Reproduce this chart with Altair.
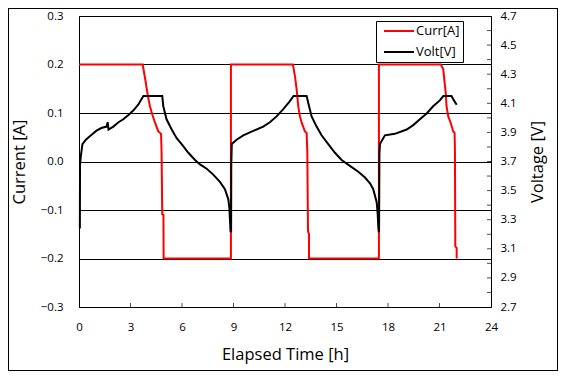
import altair as alt
import pandas as pd

# ---- data ----
curr_t = [0, 3.71, 3.86, 4.0, 4.13, 4.27, 4.43, 4.62, 4.78, 4.81, 4.85, 4.92, 4.93, 8.85, 8.85,
          12.46, 12.58, 12.68, 12.77, 12.87, 12.97, 13.16, 13.26, 13.30, 13.34, 13.40, 13.40, 17.47, 17.47,
          21.08, 21.22, 21.28, 21.36, 21.41, 21.51, 21.65, 21.80, 21.88, 21.90, 21.92, 22.0, 22.0]
curr_a = [0.2, 0.2, 0.169, 0.138, 0.114, 0.097, 0.080, 0.062, 0.057, 0.019, -0.109, -0.11, -0.2, -0.2, 0.2,
          0.2, 0.176, 0.148, 0.114, 0.093, 0.080, 0.062, 0.059, 0.019, -0.144, -0.15, -0.2, -0.2, 0.2,
          0.2, 0.190, 0.169, 0.142, 0.114, 0.093, 0.080, 0.062, 0.059, 0.019, -0.175, -0.178, -0.2]

volt_t = [0.05, 0.06, 0.1, 0.2, 0.4, 0.7, 1.0, 1.3, 1.6, 1.67, 1.72, 2.0, 2.3, 2.58, 2.88, 3.16, 3.45, 3.75,
          4.85, 4.91, 5.10, 5.40, 5.69, 5.98, 6.37, 6.76, 7.05, 7.44, 7.82, 8.21, 8.50, 8.70, 8.76, 8.80, 8.83,
          8.86, 8.87, 8.9, 9.18, 9.57, 10.15, 10.73, 11.12, 11.51, 11.9, 12.25, 12.5,
          13.26, 13.36, 13.55, 13.84, 14.13, 14.52, 14.91, 15.3, 15.78, 16.27, 16.66, 16.95, 17.14, 17.34, 17.40,
          17.43, 17.46, 17.48, 17.5, 17.53, 17.82, 18.4, 19.09, 19.47, 19.86, 20.25, 20.63, 21.02, 21.22,
          21.7, 21.84, 22.0]
volt_v = [3.24, 3.68, 3.73, 3.82, 3.85, 3.88, 3.91, 3.93, 3.94, 3.97, 3.92, 3.94, 3.97, 3.99, 4.02, 4.05, 4.09, 4.15,
          4.15, 4.08, 3.99, 3.92, 3.86, 3.82, 3.76, 3.71, 3.68, 3.65, 3.61, 3.56, 3.51, 3.44, 3.38, 3.28, 3.22,
          3.22, 3.67, 3.82, 3.85, 3.88, 3.91, 3.94, 3.97, 4.01, 4.06, 4.11, 4.15,
          4.15, 4.10, 4.01, 3.94, 3.88, 3.82, 3.76, 3.71, 3.67, 3.63, 3.59, 3.55, 3.51, 3.42, 3.34,
          3.26, 3.22, 3.22, 3.75, 3.82, 3.88, 3.89, 3.92, 3.95, 3.99, 4.03, 4.08, 4.12, 4.15,
          4.15, 4.12, 4.09]

x_ticks = [0, 3, 6, 9, 12, 15, 18, 21, 24]
curr_ticks = [-0.3, -0.2, -0.1, 0.0, 0.1, 0.2, 0.3]
volt_labels = [2.7, 2.9, 3.1, 3.3, 3.5, 3.7, 3.9, 4.1, 4.3, 4.5, 4.7]
volt_minor = [2.8, 2.9, 3.0, 3.1, 3.2, 3.3, 3.4, 3.5, 3.6, 3.7, 3.8, 3.9, 4.0, 4.1, 4.2, 4.3, 4.4, 4.5, 4.6]
series = ["Curr[A]", "Volt[V]"]
colors = ["#ff0000", "#000000"]

curr_df = pd.DataFrame({"t": curr_t, "v": curr_a, "i": range(len(curr_t))})
volt_df = pd.DataFrame({"t": volt_t, "v": volt_v, "i": range(len(volt_t))})
xtick_df = pd.DataFrame({"t": x_ticks[1:-1]})
vtick_df = pd.DataFrame({"v": volt_minor})

FONT = "Open Sans"
W, H = 412, 291

xscale = alt.Scale(domain=[0, 24], nice=False, zero=False)
cscale = alt.Scale(domain=[-0.3, 0.3], nice=False, zero=False)
vscale = alt.Scale(domain=[2.7, 4.7], nice=False, zero=False)
color_scale = alt.Scale(domain=series, range=colors)

xaxis = alt.Axis(values=x_ticks, title="Elapsed Time [h]", grid=False, domain=False, tickSize=0,
                 labelPadding=14, titlePadding=14, format="d", labelOverlap=False, labelFlush=False)
caxis = alt.Axis(values=curr_ticks, title="Current [A]", format=".1f", grid=True,
                 gridColor="black", gridOpacity=1, gridWidth=1, domain=False, tickSize=0,
                 labelPadding=16, titlePadding=13, labelOverlap=False, labelFlush=False)
vaxis = alt.Axis(orient="right", values=volt_labels, title="Voltage [V]", format=".1f",
                 grid=False, domain=False, tickSize=0, labelPadding=9, titlePadding=29,
                 titleAngle=270, labelOverlap=False, labelFlush=False)

curr_line = alt.Chart(curr_df).mark_line(strokeWidth=2, clip=False).encode(
    x=alt.X("t:Q", scale=xscale, axis=xaxis),
    y=alt.Y("v:Q", scale=cscale, axis=caxis),
    order="i:Q",
    color=alt.Color("s:N", scale=color_scale, legend=alt.Legend(title=None)),
).transform_calculate(s="'Curr[A]'")

xticks = alt.Chart(xtick_df).mark_tick(color="black", thickness=1, size=4, orient="vertical").encode(
    x=alt.X("t:Q", scale=xscale, axis=xaxis),
    y=alt.value(H - 2),
)

frame = alt.Chart(xtick_df).mark_rect(filled=False, stroke="black", strokeWidth=1).encode(
    x=alt.value(-70.5), x2=alt.value(W + 66.5), y=alt.value(-7.5), y2=alt.value(H + 63.5)
)

volt_line = alt.Chart(volt_df).mark_line(strokeWidth=2).encode(
    x=alt.X("t:Q", scale=xscale, axis=xaxis),
    y=alt.Y("v:Q", scale=vscale, axis=vaxis),
    order="i:Q",
    color=alt.Color("s:N", scale=color_scale),
).transform_calculate(s="'Volt[V]'")

vticks = alt.Chart(vtick_df).mark_tick(color="black", thickness=1, size=4, orient="horizontal").encode(
    y=alt.Y("v:Q", scale=vscale, axis=vaxis),
    x=alt.value(W - 2),
)

left = alt.layer(frame, curr_line, xticks)
right = alt.layer(volt_line, vticks)

chart = alt.layer(left, right).resolve_scale(y="independent").properties(
    width=W, height=H, autosize="none",
    padding={"left": 71, "top": 8, "right": 67, "bottom": 64},
).configure_view(stroke="black", strokeWidth=1).configure_axis(
    labelFont=FONT, titleFont=FONT, labelFontSize=11.5, titleFontSize=16.5,
    labelColor="black", titleColor="black", titleFontWeight="normal", labelOverlap=False,
    labelFlush=False,
).configure_legend(
    orient="none", legendX=297, legendY=5, strokeColor="black", fillColor="white",
    padding=3, symbolType="M-0.333,0H4.667", symbolSize=144, symbolStrokeWidth=2,
    labelOffset=23, labelFont=FONT, labelFontSize=13, labelColor="black", rowPadding=7,
    cornerRadius=0,
)

chart.save("out.html", embed_options={"renderer": "svg", "actions": False})
